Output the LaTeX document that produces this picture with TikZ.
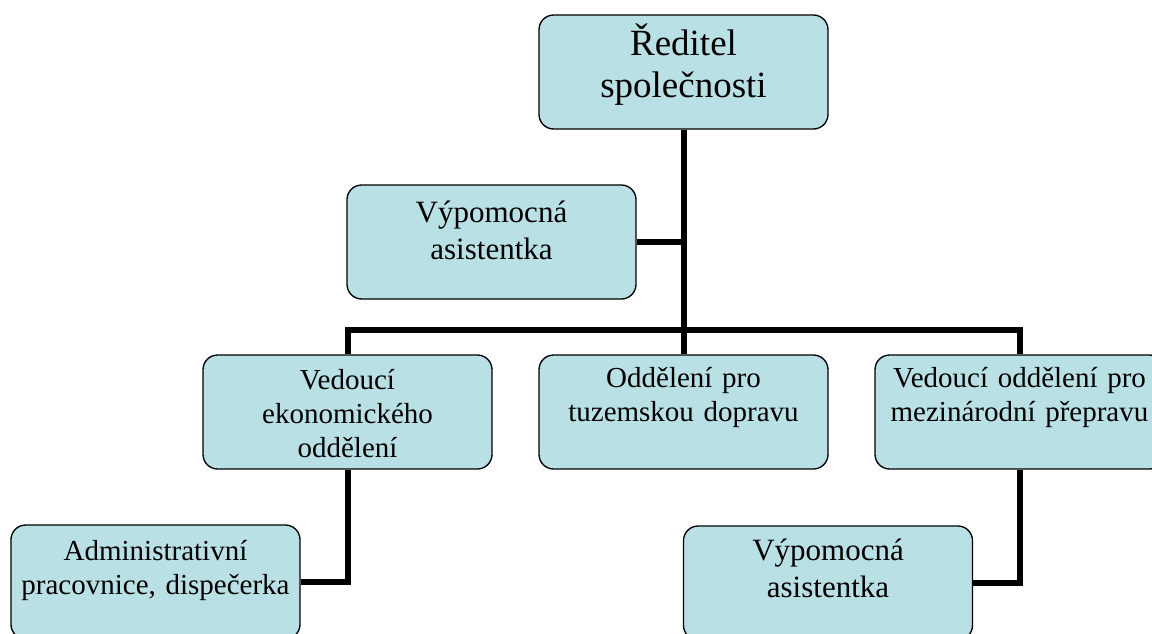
\documentclass[tikz,border=0pt]{standalone}
\usepackage{fontspec}
\setmainfont{Liberation Serif}
\usetikzlibrary{backgrounds}
\definecolor{boxfill}{RGB}{185,224,228}
\begin{document}
\begin{tikzpicture}[x=0.75pt,y=-0.75pt,
  orgbox/.style={draw=black, line width=1pt, fill=boxfill, rounded corners=11pt,
    minimum width=216.75pt, minimum height=85.5pt, inner sep=0pt},
  txt/.style={anchor=base, align=center, text width=212pt, inner sep=0pt, text=black},
  fbig/.style={font=\fontsize{27.75}{31.5}\selectfont},
  fmid/.style={font=\fontsize{23.25}{28}\selectfont},
  fsmall/.style={font=\fontsize{21.75}{25.8}\selectfont},
  conn/.style={draw=black, line width=4.5pt}]
\useasboundingbox (0,0) rectangle (1152,633);
% boxes
\node[orgbox] (red) at (683.5,72) {};
\node[orgbox] (asL) at (491.5,242) {};
\node[orgbox] (ekon) at (347.5,412) {};
\node[orgbox] (tuz) at (683.5,412) {};
\node[orgbox] (mez) at (1019.5,412) {};
\node[orgbox] (adm) at (155.5,582) {};
\node[orgbox] (asR) at (828,583) {};
% texts
\node[txt,fbig] (redT) at (683.5,55) {Ředitel\\společnosti};
\node[txt,fmid] (asLT) at (491.5,222) {Výpomocná\\asistentka};
\node[txt,fsmall] (ekonT) at (347.5,389) {Vedoucí\\ekonomického\\oddělení};
\node[txt,fsmall] (tuzT) at (683.5,387) {Oddělení pro\\tuzemskou dopravu};
\node[txt,fsmall] (mezT) at (1019.5,387) {Vedoucí oddělení pro\\mezinárodní přepravu};
\node[txt,fsmall] (admT) at (155.5,560) {Administrativní\\pracovnice, dispečerka};
\node[txt,fmid] (asRT) at (828,560) {Výpomocná\\asistentka};
\coordinate (bus) at (683.5,330);
\begin{scope}[on background layer]
\draw[conn] (red.south) -- (bus);
\draw[conn] (asL.east) -- (asL.east -| red.south);
\draw[conn] (ekon.north) |- (bus) -| (mez.north);
\draw[conn] (tuz.north) -- (bus);
\draw[conn] (ekon.south) |- (adm.east);
\draw[conn] (mez.south) |- (asR.east);
\end{scope}
\end{tikzpicture}
\end{document}
